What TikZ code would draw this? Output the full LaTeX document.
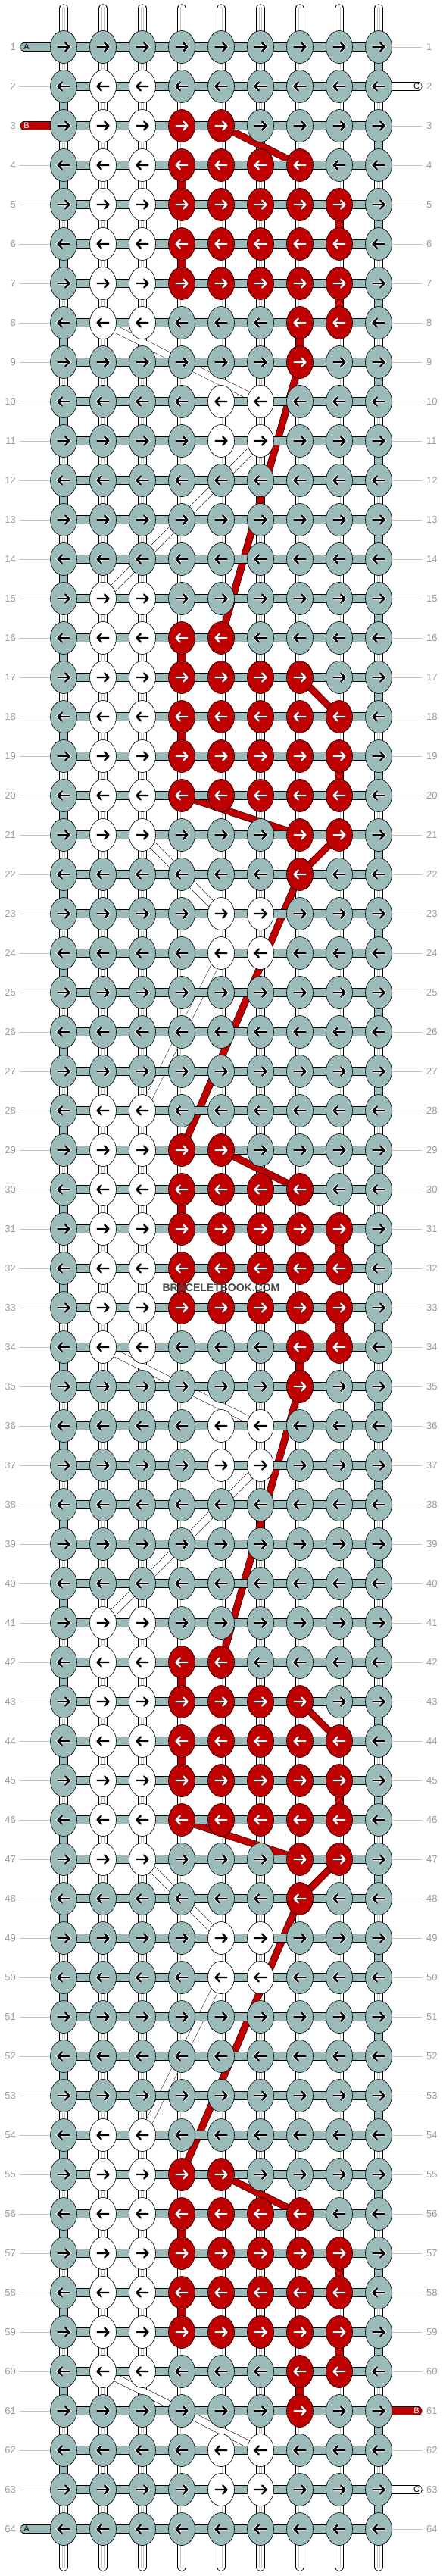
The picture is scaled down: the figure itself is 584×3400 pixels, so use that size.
\documentclass[tikz,border=0pt]{standalone}
\usepackage{fontspec}
\setmainfont{Liberation Sans}
\usetikzlibrary{shapes.geometric}

\definecolor{strandA}{RGB}{155,187,186}
\definecolor{strandB}{RGB}{192,0,0}
\definecolor{numgrey}{RGB}{155,155,155}
\definecolor{leadgrey}{RGB}{195,195,195}
\definecolor{coregrey}{RGB}{200,200,200}
\definecolor{markgrey}{RGB}{70,70,70}

\pgfdeclarelayer{vseg}
\pgfdeclarelayer{carry}
\pgfdeclarelayer{bar}
\pgfsetlayers{vseg,carry,bar,main}

\tikzset{
  knot/.style={ellipse, draw=black, line width=0.6pt, minimum width=35pt, minimum height=43pt, inner sep=0pt},
  knotA/.style={knot, fill=strandA},
  knotB/.style={knot, fill=strandB},
  knotC/.style={knot, fill=white},
  arrowA/.style={draw=black, line width=2.4pt, line cap=round, line join=round, preaction={draw=white, line width=4.2pt}},
  arrowB/.style={draw=white, line width=2.4pt, line cap=round, line join=round, preaction={draw=strandB!55!black, line width=3.4pt}},
  arrowC/.style={draw=black, line width=2.4pt, line cap=round, line join=round},
  strand/.style={draw=black, line width=0.6pt, double distance=10pt},
  bar/.style={strand, double=strandA},
  vtube/.style={strand, double=white, postaction={draw=coregrey, line width=0.5pt, double=white, double distance=2.6pt}},
  vgrey/.style={strand, double=strandA},
  vred/.style={strand, double=strandB},
  redcarry/.style={draw=black, line width=0.5pt, double=strandB, double distance=8.5pt},
  whitecarry/.style={draw=black, line width=0.5pt, double=white, double distance=9pt},
  tailA/.style={bar, line cap=round},
  tailB/.style={vred, line cap=round},
  tailC/.style={strand, double=white, line cap=round},
  leader/.style={draw=leadgrey, line width=0.8pt},
  rownum/.style={text=numgrey, font=\fontsize{13}{13}\selectfont, inner sep=0pt},
  taillabel/.style={font=\fontsize{11}{11}\selectfont, inner sep=0pt},
  watermark/.style={text=markgrey, font=\bfseries\fontsize{14}{14}\selectfont, inner sep=0pt}
}

\begin{document}
\begin{tikzpicture}[x=1pt, y=-1pt]
  \useasboundingbox (0,0) rectangle (584,3400);

  % knots, pattern repeats every 13 rows
  \foreach \row in {1,...,64}{
    \pgfmathtruncatemacro{\p}{\row==1 ? 10 : mod(\row-2,13)}
    \pgfmathtruncatemacro{\dir}{mod(\row,2)==1 ? 1 : -1}
    \foreach \col in {1,...,9}{
      \pgfmathtruncatemacro{\isred}{((\p==1) && (\col>3) && (\col<6)) || ((\p==2) && (\col>3) && (\col<8)) || ((\p>2) && (\p<6) && (\col>3) && (\col<9)) || ((\p==6) && (\col>6) && (\col<9)) || ((\p==7) && (\col==7))}
      \pgfmathtruncatemacro{\iswhite}{((\p<7) && ((\col==2) || (\col==3))) || (((\p==8) || (\p==9)) && ((\col==5) || (\col==6)))}
      \ifnum\isred=1 \def\kc{B}\else\ifnum\iswhite=1 \def\kc{C}\else\def\kc{A}\fi\fi
      \edef\kst{knot\kc}
      \edef\ast{arrow\kc}
      \node[\kst] (k-\row-\col) at ({84+52*(\col-1)},{62+52*(\row-1)}) {};
      \begin{scope}[shift={(k-\row-\col.center)}, xscale=\dir]
        \draw[\ast] (-7.5,0) -- (7.5,0) (2.2,-5.5) -- (7.5,0) -- (2.2,5.5);
      \end{scope}
    }
  }

  % horizontal bars
  \begin{pgfonlayer}{bar}
    \foreach \row in {1,...,64}
      \foreach \col [count=\nxt from 2] in {1,...,8}
        \draw[bar] (k-\row-\col.center) -- (k-\row-\nxt.center);
  \end{pgfonlayer}

  % vertical strands
  \begin{pgfonlayer}{vseg}
    \foreach \col in {1,...,9}{
      \coordinate (top-\col) at ({84+52*(\col-1)},11);
      \coordinate (bot-\col) at ({84+52*(\col-1)},3388);
      \draw[vtube, line cap=round] (top-\col) -- (k-1-\col.center);
      \draw[vtube, line cap=round] (k-64-\col.center) -- (bot-\col);
    }
    \foreach \row [count=\nxt from 2] in {1,...,63}{
      \foreach \col in {1,...,9}
        \draw[vtube] (k-\row-\col.center) -- (k-\nxt-\col.center);
      \pgfmathtruncatemacro{\edge}{mod(\row,2)==1 ? 9 : 1}
      \draw[vgrey] (k-\row-\edge.center) -- (k-\nxt-\edge.center);
    }
    \foreach \row/\col in {4/4, 5/8, 6/4, 7/8, 8/7, 16/4, 18/4, 19/8,
                           30/4, 31/8, 32/4, 33/8, 34/7, 42/4, 44/4, 45/8,
                           56/4, 57/8, 58/4, 59/8, 60/7}{
      \pgfmathtruncatemacro{\nxt}{\row+1}
      \draw[vred] (k-\row-\col.center) -- (k-\nxt-\col.center);
    }
  \end{pgfonlayer}

  % carried strands
  \begin{pgfonlayer}{carry}
    \foreach \a/\b in {3-5/4-7, 9-7/16-5, 17-7/18-8, 20-4/21-7, 21-8/22-7, 22-7/29-4,
                       29-5/30-7, 35-7/42-5, 43-7/44-8, 46-4/47-7, 47-8/48-7, 48-7/55-4,
                       55-5/56-7}
      \draw[redcarry] (k-\a.center) -- (k-\b.center);
    \foreach \a/\b in {8-2/10-6, 11-6/15-2, 21-3/23-5, 24-5/28-3, 34-2/36-6,
                       37-6/41-2, 47-3/49-5, 50-5/54-3, 60-2/62-6}
      \draw[whitecarry] (k-\a.center) -- (k-\b.center);
  \end{pgfonlayer}

  % row numbers and leaders
  \foreach \row in {1,...,64}{
    \node[rownum, anchor=east] (nl-\row) at (21,{62+52*(\row-1)}) {\row};
    \node[rownum, anchor=west] (nr-\row) at (563,{62+52*(\row-1)}) {\row};
    \coordinate (ll-\row) at (26,{62+52*(\row-1)});
    \coordinate (lr-\row) at (557,{62+52*(\row-1)});
    \pgfmathtruncatemacro{\lt}{(\row==1) || (\row==3) || (\row==64)}
    \pgfmathtruncatemacro{\rt}{(\row==2) || (\row==61) || (\row==63)}
    \ifnum\lt=0 \draw[leader] (ll-\row) -- (k-\row-1.west); \fi
    \ifnum\rt=0 \draw[leader] (k-\row-9.east) -- (lr-\row); \fi
  }

  % loose ends
  \begin{pgfonlayer}{bar}
    \foreach \row/\t in {1/A, 3/B, 64/A}{
      \coordinate (tl-\row) at (32,{62+52*(\row-1)});
      \edef\tst{tail\t}
      \draw[\tst] (tl-\row) -- (k-\row-1.center);
    }
    \foreach \row/\t in {2/C, 61/B, 63/C}{
      \coordinate (tr-\row) at (552,{62+52*(\row-1)});
      \edef\tst{tail\t}
      \draw[\tst] (k-\row-9.center) -- (tr-\row);
    }
  \end{pgfonlayer}
  \node[taillabel, xshift=3pt] at (tl-1) {A};
  \node[taillabel, xshift=3pt, text=white] at (tl-3) {B};
  \node[taillabel, xshift=3pt] at (tl-64) {A};
  \node[taillabel, xshift=-2pt] at (tr-2) {C};
  \node[taillabel, xshift=-2pt, text=white] at (tr-61) {B};
  \node[taillabel, xshift=-2pt] at (tr-63) {C};

  \node[watermark] (mark) at (292,1700) {BRACELETBOOK.COM};
\end{tikzpicture}
\end{document}
